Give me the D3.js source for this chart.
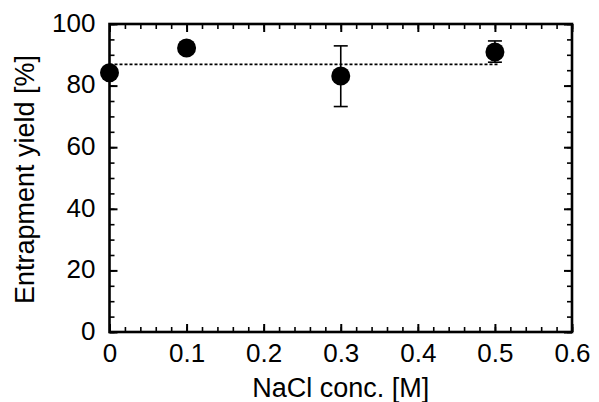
<!DOCTYPE html>
<html>
<head>
<meta charset="utf-8">
<script src="https://cdn.jsdelivr.net/npm/d3@7"></script>
<style>
  html, body { margin: 0; padding: 0; background: #fff; }
  svg text { font-family: Arial, "Liberation Sans", sans-serif; fill: #000; }
</style>
</head>
<body>
<svg id="chart" width="599" height="402"></svg>
<script>
// NaCl concentration [M] and entrapment yield [%] with error bounds
const nacl = [0, 0.1, 0.3, 0.5];
const yieldPct = [84.2, 92.2, 83.1, 90.9];
const errUpper = [85.2, 93.0, 92.9, 94.5];
const errLower = [83.2, 91.4, 73.2, 87.6];
const meanYield = 86.9;
const xTicks = [0, 0.1, 0.2, 0.3, 0.4, 0.5, 0.6];
const yTicks = [0, 20, 40, 60, 80, 100];

const svg = d3.select("#chart");
const plotL = 109.5, plotR = 572, plotT = 24, plotB = 332;

const x = d3.scaleLinear().domain([0, 0.6]).range([plotL, plotR]);
const y = d3.scaleLinear().domain([0, 100]).range([plotB, plotT]);

const tickFont = 26;
const titleFont = 27;

// minor tick positions
const xMinor = d3.range(0, 0.6001, 0.02);
const yMinor = d3.range(0, 100.001, 5);

// draws an inward-pointing tick set on one side of the frame
function tickSet(axisGen, transform, values, len, width, labels) {
  const g = svg.append("g").attr("transform", transform)
    .call(axisGen.tickValues(values).tickSize(-len));
  if (!labels) g.call(axisGen.tickFormat(""));
  g.select(".domain").remove();
  g.selectAll("line").attr("stroke", "#000").attr("stroke-width", width);
  return g;
}

// minor ticks
tickSet(d3.axisBottom(x), `translate(0,${plotB})`, xMinor, 5, 1.6, false);
tickSet(d3.axisTop(x), `translate(0,${plotT})`, xMinor, 5, 1.6, false);
tickSet(d3.axisLeft(y), `translate(${plotL},0)`, yMinor, 5, 1.6, false);
tickSet(d3.axisRight(y), `translate(${plotR},0)`, yMinor, 5, 1.6, false);

// major ticks with labels on bottom and left
const gb = tickSet(d3.axisBottom(x).tickPadding(12).tickFormat(d => String(d)),
  `translate(0,${plotB})`, xTicks, 8, 2, true);
gb.selectAll("text").attr("font-size", tickFont).attr("dy", "0.71em");
tickSet(d3.axisTop(x), `translate(0,${plotT})`, xTicks, 8, 2, false);

const gl = tickSet(d3.axisLeft(y).tickPadding(14),
  `translate(${plotL},0)`, yTicks, 8, 2, true);
gl.selectAll("text").attr("font-size", tickFont).attr("dy", "0.28em");
tickSet(d3.axisRight(y), `translate(${plotR},0)`, yTicks, 8, 2, false);

// frame
svg.append("rect")
  .attr("x", plotL).attr("y", plotT)
  .attr("width", plotR - plotL).attr("height", plotB - plotT)
  .attr("fill", "none").attr("stroke", "#000").attr("stroke-width", 2.6);

// average line
svg.append("line")
  .attr("x1", x(0)).attr("x2", x(0.5) + 3)
  .attr("y1", y(meanYield)).attr("y2", y(meanYield))
  .attr("stroke", "#000").attr("stroke-width", 1.6)
  .attr("stroke-dasharray", "3,2");

// error bars
const eb = svg.append("g");
nacl.forEach((c, i) => {
  const cx = x(c);
  eb.append("line").attr("x1", cx).attr("x2", cx)
    .attr("y1", y(errUpper[i])).attr("y2", y(errLower[i]))
    .attr("stroke", "#000").attr("stroke-width", 1.6);
  [errUpper[i], errLower[i]].forEach(v => {
    eb.append("line").attr("x1", cx - 7).attr("x2", cx + 7)
      .attr("y1", y(v)).attr("y2", y(v))
      .attr("stroke", "#000").attr("stroke-width", 1.6);
  });
});

// markers
svg.append("g").selectAll("circle")
  .data(nacl)
  .join("circle")
  .attr("cx", d => x(d))
  .attr("cy", (d, i) => y(yieldPct[i]))
  .attr("r", 9.5)
  .attr("fill", "#000");

// axis titles
svg.append("text")
  .attr("x", (plotL + plotR) / 2).attr("y", 396.5)
  .attr("text-anchor", "middle")
  .attr("font-size", titleFont)
  .text("NaCl conc. [M]");

svg.append("text")
  .attr("transform", `translate(34,${(plotT + plotB) / 2 + 1.5}) rotate(-90)`)
  .attr("text-anchor", "middle")
  .attr("font-size", titleFont)
  .text("Entrapment yield [%]");
</script>
</body>
</html>
